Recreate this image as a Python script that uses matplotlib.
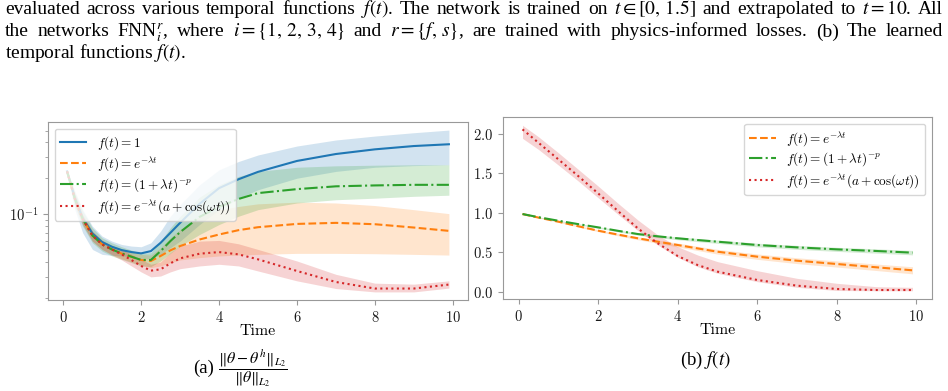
import matplotlib
matplotlib.use("Agg")
import matplotlib.pyplot as plt

plt.rcParams.update({
    "font.family": "cmr10", "mathtext.fontset": "cm",
    "axes.formatter.use_mathtext": True,
    "axes.edgecolor": "0.6", "axes.linewidth": 0.8,
    "xtick.color": "0.6", "ytick.color": "0.6",
    "xtick.labelcolor": "0.1", "ytick.labelcolor": "0.1",
    "xtick.labelsize": 10.5, "ytick.labelsize": 10.5,
    "axes.labelsize": 11.5, "legend.fontsize": 9.5,
    "legend.labelspacing": 0.22,
})

BLUE, ORANGE, GREEN, RED = "#1f77b4", "#ff7f0e", "#2ca02c", "#d62728"
LBL_CONST = r"$f(t) = 1$"
LBL_EXP = r"$f(t) = e^{-\lambda t}$"
LBL_POW = r"$f(t) = (1 + \lambda t)^{-p}$"
LBL_OSC = r"$f(t) = e^{-\lambda t}(a + \cos(\omega t))$"

# (a) relative L2 error vs time, mean and band
t_err = [0.1, 0.3, 0.5, 0.75, 1.0, 1.25, 1.5, 1.75, 2.0, 2.25, 2.5, 2.75, 3.0,
         3.5, 4.0, 4.5, 5.0, 6.0, 7.0, 8.0, 9.0, 9.9]
err_const = [0.228, 0.136, 0.0929, 0.0688, 0.0583, 0.0533, 0.0500, 0.0481, 0.0469, 0.0490, 0.0575,
             0.0697, 0.0845, 0.122, 0.165, 0.196, 0.226, 0.279, 0.319, 0.349, 0.372, 0.385]
err_const_hi = [0.235, 0.155, 0.109, 0.0792, 0.0654, 0.0594, 0.0557, 0.0540, 0.0533, 0.0575, 0.0720,
                0.0960, 0.120, 0.176, 0.235, 0.276, 0.313, 0.372, 0.418, 0.451, 0.481, 0.506]
err_const_lo = [0.2135, 0.109, 0.0697, 0.0506, 0.0460, 0.0451, 0.0446, 0.0440, 0.0423, 0.0423, 0.0460,
                0.0523, 0.0594, 0.0818, 0.109, 0.136, 0.160, 0.200, 0.228, 0.247, 0.255, 0.259]
err_exp = [0.228, 0.134, 0.0912, 0.0662, 0.0557, 0.0506, 0.0466, 0.0440, 0.0413, 0.0405, 0.0446,
           0.0497, 0.0540, 0.0613, 0.0675, 0.0734, 0.0777, 0.0828, 0.0845, 0.0823, 0.0772, 0.0724]
err_exp_hi = [0.232, 0.146, 0.0991, 0.0720, 0.0605, 0.0547, 0.0506, 0.0481, 0.0460, 0.0454, 0.0523,
              0.0633, 0.0743, 0.0960, 0.109, 0.116, 0.122, 0.126, 0.124, 0.118, 0.109, 0.101]
err_exp_lo = [0.220, 0.120, 0.0818, 0.0594, 0.0506, 0.0460, 0.0423, 0.0397, 0.0372, 0.0356, 0.0368,
              0.0392, 0.0413, 0.0432, 0.0446, 0.0454, 0.0460, 0.0469, 0.0469, 0.0466, 0.0460, 0.0454]
err_pow = [0.228, 0.134, 0.0912, 0.0662, 0.0557, 0.0506, 0.0469, 0.0440, 0.0413, 0.0413, 0.0490,
           0.0594, 0.0706, 0.0948, 0.115, 0.134, 0.150, 0.162, 0.171, 0.174, 0.176, 0.176]
err_pow_hi = [0.235, 0.150, 0.106, 0.0767, 0.0633, 0.0575, 0.0533, 0.0500, 0.0469, 0.0475, 0.0594,
              0.0767, 0.0960, 0.139, 0.176, 0.207, 0.228, 0.247, 0.254, 0.257, 0.259, 0.259]
err_pow_lo = [0.218, 0.116, 0.0792, 0.0575, 0.0490, 0.0446, 0.0418, 0.0392, 0.0368, 0.0363, 0.0405,
              0.0469, 0.0540, 0.0675, 0.0818, 0.0960, 0.109, 0.124, 0.132, 0.136, 0.141, 0.144]
err_osc = [0.228, 0.134, 0.0912, 0.0662, 0.0557, 0.0506, 0.0460, 0.0413, 0.0368, 0.0336, 0.0345,
           0.0387, 0.0426, 0.0466, 0.0481, 0.0460, 0.0418, 0.0334, 0.0270, 0.0238, 0.0238, 0.0257]
err_osc_hi = [0.232, 0.146, 0.0991, 0.0720, 0.0602, 0.0547, 0.0506, 0.0460, 0.0418, 0.0380, 0.0397,
              0.0475, 0.0540, 0.0594, 0.0602, 0.0564, 0.0506, 0.0405, 0.0313, 0.0264, 0.0259, 0.0276]
err_osc_lo = [0.220, 0.120, 0.0818, 0.0594, 0.0506, 0.0454, 0.0413, 0.0368, 0.0328, 0.0298, 0.0303,
              0.0328, 0.0349, 0.0368, 0.0380, 0.0368, 0.0334, 0.0276, 0.0238, 0.0223, 0.0223, 0.0240]

# (b) learned temporal functions
t_f = [0.1, 0.5, 1.0, 1.5, 2.0, 2.5, 3.0, 3.5, 4.0, 4.5, 5.0, 6.0, 7.0, 8.0, 9.0, 9.9]
f_exp = [0.985, 0.94, 0.888, 0.83, 0.774, 0.724, 0.677, 0.634, 0.592, 0.549, 0.507, 0.444, 0.393, 0.351, 0.309, 0.271]
f_exp_hi = [0.99, 0.945, 0.896, 0.84, 0.786, 0.739, 0.695, 0.654, 0.617, 0.576, 0.537, 0.478, 0.43, 0.39, 0.35, 0.316]
f_exp_lo = [0.98, 0.935, 0.88, 0.82, 0.762, 0.709, 0.659, 0.614, 0.567, 0.522, 0.477, 0.41, 0.356, 0.312, 0.268, 0.226]
f_pow = [0.985, 0.945, 0.9, 0.857, 0.816, 0.772, 0.731, 0.702, 0.677, 0.655, 0.634, 0.592, 0.562, 0.537, 0.516, 0.495]
f_pow_hi = [0.99, 0.95, 0.906, 0.865, 0.826, 0.784, 0.745, 0.718, 0.695, 0.675, 0.655, 0.615, 0.587, 0.563, 0.543, 0.523]
f_pow_lo = [0.98, 0.94, 0.894, 0.849, 0.806, 0.76, 0.717, 0.686, 0.659, 0.635, 0.613, 0.569, 0.537, 0.511, 0.489, 0.467]
f_osc = [2.059, 1.890, 1.679, 1.467, 1.247, 1.023, 0.803, 0.613, 0.452, 0.338, 0.254, 0.148, 0.076, 0.034, 0.021, 0.021]
f_osc_hi = [2.111, 1.966, 1.763, 1.552, 1.340, 1.121, 0.909, 0.719, 0.571, 0.465, 0.381, 0.266, 0.169, 0.106, 0.063, 0.055]
f_osc_lo = [1.945, 1.805, 1.607, 1.404, 1.192, 0.981, 0.774, 0.592, 0.436, 0.317, 0.233, 0.127, 0.055, 0.015, 0.012, 0.012]

# caption text of the paper page
PARA_1 = ["evaluated", "across", "various", "temporal", "functions", "$f(t)$.", "The", "network", "is",
          "trained", "on", r"$t \in [0,\, 1.5]$", "and", "extrapolated", "to", "$t = 10$.", "All"]
PARA_2 = ["the", "networks", r"FNN$_i^r$,", "where", r"$i = \{1,\, 2,\, 3,\, 4\}$", "and",
          r"$r = \{f,\, s\}$,", "are", "trained", "with", "physics-informed", "losses.", "(b)", "The", "learned"]
PARA_3 = "temporal functions $f(t)$."
CAP_A_TAG = "(a)"
CAP_A_EXPR = r"$\dfrac{\Vert\theta - \theta^h\Vert_{L_2}}{\Vert\theta\Vert_{L_2}}$"
CAP_B = r"(b) $f(t)$"

TXT = dict(family="Liberation Serif", math_fontfamily="stix", color="black")


def band(ax, t, mid, lo, hi, color, ls, label=None):
    ax.fill_between(t, lo, hi, color=color, alpha=0.2, lw=0)
    ax.plot(t, mid, color=color, ls=ls, lw=1.5, label=label)


def justify(fig, words, y_px, x0, x1):
    r = fig.canvas.get_renderer()
    arts = [fig.text(0, 1 - y_px / fig.bbox.height, w, va="baseline", fontsize=14, **TXT) for w in words]
    widths = [a.get_window_extent(r).width for a in arts]
    gap = (x1 - x0 - sum(widths)) / (len(arts) - 1)
    x = x0
    for a, w in zip(arts, widths):
        a.set_x(x / fig.bbox.width)
        x += w + gap


fig = plt.figure(figsize=(9.48, 3.91), dpi=100)
ax1 = fig.add_axes([48 / 948, 1 - 300 / 391, 420 / 948, 178 / 391])
ax2 = fig.add_axes([503 / 948, 1 - 299 / 391, 429 / 948, 182 / 391])

band(ax1, t_err, err_const, err_const_lo, err_const_hi, BLUE, "-", LBL_CONST)
band(ax1, t_err, err_exp, err_exp_lo, err_exp_hi, ORANGE, "--", LBL_EXP)
band(ax1, t_err, err_pow, err_pow_lo, err_pow_hi, GREEN, "-.", LBL_POW)
band(ax1, t_err, err_osc, err_osc_lo, err_osc_hi, RED, ":", LBL_OSC)
ax1.set_yscale("log")
ax1.set_xticks([0, 2, 4, 6, 8, 10])
ax1.set_xlabel("Time", labelpad=0)
ax1.legend(loc="upper left")

band(ax2, t_f, f_exp, f_exp_lo, f_exp_hi, ORANGE, "--", LBL_EXP)
band(ax2, t_f, f_pow, f_pow_lo, f_pow_hi, GREEN, "-.", LBL_POW)
band(ax2, t_f, f_osc, f_osc_lo, f_osc_hi, RED, ":", LBL_OSC)
ax2.set_xticks([0, 2, 4, 6, 8, 10])
ax2.set_yticks([0.0, 0.5, 1.0, 1.5, 2.0])
ax2.set_xlabel("Time", labelpad=0)
ax2.legend(loc="upper right")

justify(fig, PARA_1, 14.5, 5, 943)
justify(fig, PARA_2, 36.5, 5, 943)
fig.text(5 / 948, 1 - 58.5 / 391, PARA_3, va="baseline", fontsize=14, **TXT)
fig.text(193 / 948, 1 - 368 / 391, CAP_A_TAG, ha="left", va="center", fontsize=13.5, **TXT)
fig.text(218 / 948, 1 - 368 / 391, CAP_A_EXPR, ha="left", va="center", fontsize=11.5, **TXT)
fig.text(705 / 948, 1 - 360 / 391, CAP_B, ha="center", va="center", fontsize=13.5, **TXT)

fig.savefig("out.png", dpi=100)
